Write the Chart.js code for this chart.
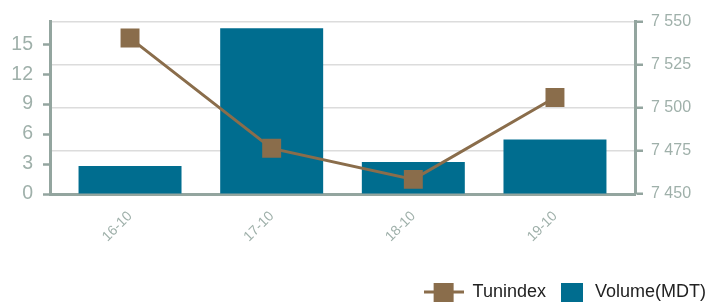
<!DOCTYPE html>
<html>
<head>
<meta charset="utf-8">
<script src="https://cdn.jsdelivr.net/npm/chart.js@4.4.1/dist/chart.umd.min.js"></script>
<style>
    html, body { margin: 0; padding: 0; background: #fff; }
    #wrap { width: 709px; height: 302px; }
</style>
</head>
<body>
<div id="wrap"><canvas id="chart"></canvas></div>
<script>
// data
const days = ['16-10', '17-10', '18-10', '19-10'];
const volume = [2.8, 16.6, 3.2, 5.45];
const tunindex = [7540.5, 7476.5, 7458.5, 7506];
const volumeTicks = [0, 3, 6, 9, 12, 15];
const indexTicks = [7450, 7475, 7500, 7525, 7550];

const BAR = '#006d8f';
const LINE = '#8a6d4b';
const AXIS = '#93a59f';
const LABEL = '#9fb0aa';
const FONT = "'Liberation Sans', Arial, sans-serif";

// legend markers
function makeLineMarker() {
    const c = document.createElement('canvas');
    c.width = 40; c.height = 20;
    const g = c.getContext('2d');
    g.strokeStyle = LINE; g.lineWidth = 3;
    g.beginPath(); g.moveTo(0, 10); g.lineTo(40, 10); g.stroke();
    g.fillStyle = LINE;
    g.fillRect(10, 0, 20, 20);
    return c;
}
function makeBarMarker() {
    const c = document.createElement('canvas');
    c.width = 40; c.height = 22;
    const g = c.getContext('2d');
    g.fillStyle = BAR;
    g.fillRect(15, 0, 22, 22);
    return c;
}
const lineMarker = makeLineMarker();
const barMarker = makeBarMarker();

function spaced(v) {
    return String(v).replace(/\B(?=(\d{3})+(?!\d))/g, ' ');
}

new Chart(document.getElementById('chart'), {
    data: {
        datasets: [{
            type: 'line',
            label: 'Tunindex',
            data: tunindex.map((v, i) => ({ x: i, y: v })),
            yAxisID: 'y1',
            borderColor: LINE,
            borderWidth: 3,
            backgroundColor: LINE,
            pointStyle: 'rect',
            pointRadius: 13.4,
            pointBorderWidth: 0,
            tension: 0,
            order: 0
        }, {
            type: 'bar',
            label: 'Volume(MDT)',
            data: volume.map((v, i) => ({ x: i, y: v })),
            yAxisID: 'y',
            backgroundColor: BAR,
            barPercentage: 0.727,
            categoryPercentage: 1,
            order: 1
        }]
    },
    options: {
        responsive: true,
        maintainAspectRatio: false,
        animation: false,
        layout: { padding: { top: 20, right: 3, left: 0, bottom: 0 } },
        scales: {
            x: {
                type: 'linear',
                offset: false,
                min: -0.565,
                max: 3.565,
                grid: { display: false, offset: false },
                border: { display: true, color: AXIS, width: 3 },
                afterBuildTicks: s => { s.ticks = days.map((d, i) => ({ value: i })); },
                afterFit: s => { s.height = 89; },
                ticks: {
                    color: LABEL,
                    font: { family: FONT, size: 14 },
                    minRotation: 45,
                    maxRotation: 45,
                    padding: 6,
                    callback: v => days[v]
                }
            },
            y: {
                position: 'left',
                min: 0,
                max: 17.25,
                afterBuildTicks: s => { s.ticks = volumeTicks.map(v => ({ value: v })); },
                afterFit: s => { s.width = 50; },
                grid: { drawOnChartArea: false, tickLength: 7, tickColor: AXIS, tickWidth: 2.5 },
                border: { display: true, color: AXIS, width: 3 },
                ticks: {
                    color: LABEL,
                    font: { family: FONT, size: 19.5 },
                    padding: 10
                }
            },
            y1: {
                position: 'right',
                min: 7450,
                max: 7550,
                afterBuildTicks: s => { s.ticks = indexTicks.map(v => ({ value: v })); },
                afterFit: s => { s.width = 71; },
                grid: { color: '#dcdcdc', lineWidth: 1.5, tickLength: 8, tickColor: AXIS, tickWidth: 2.5 },
                border: { display: true, color: AXIS, width: 3 },
                ticks: {
                    color: LABEL,
                    font: { family: FONT, size: 16 },
                    padding: 8,
                    callback: v => spaced(v)
                }
            }
        },
        plugins: {
            tooltip: { enabled: false },
            legend: {
                position: 'bottom',
                align: 'end',
                maxHeight: 19,
                labels: {
                    usePointStyle: true,
                    pointStyleWidth: 40,
                    boxHeight: 18,
                    padding: 0,
                    color: '#222',
                    font: { family: FONT, size: 18 },
                    generateLabels: () => [
                        { text: 'Tunindex', pointStyle: lineMarker, fillStyle: LINE, strokeStyle: LINE, lineWidth: 0, fontColor: '#222', datasetIndex: 0 },
                        { text: 'Volume(MDT)', pointStyle: barMarker, fillStyle: BAR, strokeStyle: BAR, lineWidth: 0, fontColor: '#222', datasetIndex: 1 }
                    ]
                }
            }
        }
    }
});
</script>
</body>
</html>
